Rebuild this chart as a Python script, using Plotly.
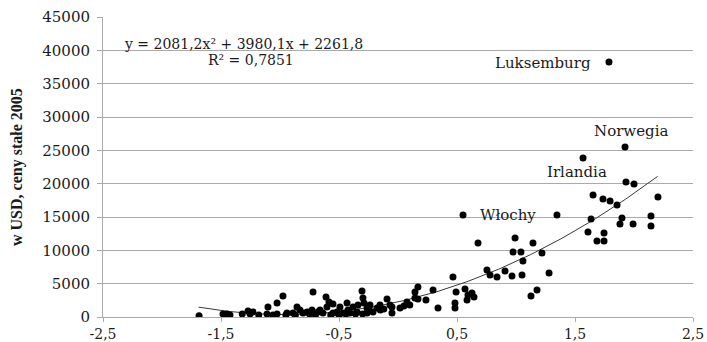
import numpy as np
import plotly.graph_objects as go

# Index value (x) vs. GDP per capita in USD, constant 2005 prices (y)
index_vals = [
    -1.686, -1.483, -1.449, -1.424, -1.271, -1.254, -1.229, -1.110, -1.102, -1.025,
    -0.975, -1.025, -0.941, -0.890, -0.856, -0.831, -0.805, -0.771, -0.720, -0.729,
    -0.678, -0.661, -0.636, -0.610, -0.602, -0.585, -0.551, -0.551, -0.517, -0.492,
    -0.466, -0.432, -0.424, -0.407, -0.381, -0.347, -0.339, -0.305, -0.297, -0.288,
    -0.263, -0.263, -0.237, -0.212, -0.178, -0.153, -0.093, -0.068, -0.051, -0.051,
    0.017, 0.076, 0.144, 0.144, 0.169, 0.169, 0.237, 0.297, 0.339, 0.466,
    0.492, 0.483, 0.483, 0.568, 0.585, 0.593, 0.627, 0.644, 0.551, 0.678,
    0.754, 0.780, 0.839, 0.907, 0.966, 0.992, 0.975, 1.042, 1.059, 1.051,
    1.144, 1.220, 1.280, 1.178, 1.127, 1.347, 1.568, 1.924, 1.788, 1.932,
    2.000, 1.653, 1.737, 1.797, 1.856, 2.203, 1.636, 1.898, 1.881, 1.992,
    2.144, 2.144, 1.610, 1.746, 1.686, 1.746,
    -1.32, -1.18, -1.06, -0.95, -0.87, -0.75, -0.70, -0.57, -0.50, -0.44,
    -0.36, -0.30, -0.24, -0.15, -0.12, 0.05, 0.10,
]
gdp_vals = [
    200, 450, 450, 300, 900, 450, 750, 450, 1500, 2100,
    3150, 450, 600, 600, 1500, 1050, 600, 750, 3750, 1050,
    750, 1050, 600, 3000, 1500, 2250, 1950, 600, 750, 1500,
    600, 2100, 1050, 600, 1500, 750, 1800, 3900, 2850, 2100,
    1350, 600, 1800, 750, 1350, 1800, 2700, 1800, 600, 1500,
    1350, 2250, 2850, 3750, 4500, 2700, 2550, 4050, 1350, 6000,
    3750, 2100, 1350, 4200, 2550, 3300, 3600, 3000, 15300, 11100,
    7050, 6300, 6000, 6900, 6150, 11850, 9750, 9750, 8400, 6300,
    11100, 9600, 6600, 4050, 3150, 15300, 23850, 25500, 38250, 20250,
    19950, 18300, 17700, 17400, 16800, 18000, 14700, 14850, 13950, 13950,
    15150, 13650, 12750, 12600, 11400, 11400,
    450, 300, 300, 300, 300, 450, 300, 300, 300, 450,
    450, 450, 900, 1050, 1200, 1650, 1800,
]

# Quadratic trend line coefficients (shown in the equation label)
trend_a, trend_b, trend_c = 2081.2, 3980.1, 2261.8
trend_x_min, trend_x_max = -1.69, 2.2
r_squared_text = "R² = 0,7851"
equation_text = "y = 2081,2x² + 3980,1x + 2261,8"

# Country labels: (name, x, y) in data units
country_labels = [
    ("Luksemburg", 1.229, 38100),
    ("Norwegia", 1.975, 27900),
    ("Irlandia", 1.517, 21750),
    ("Włochy", 0.932, 15300),
]

x_ticks = [-2.5, -1.5, -0.5, 0.5, 1.5, 2.5]
x_tick_text = ["-2,5", "-1,5", "-0,5", "0,5", "1,5", "2,5"]
y_ticks = list(range(0, 45001, 5000))
y_tick_text = [str(v) for v in y_ticks]
y_title = "w USD, ceny stałe 2005"

serif = "DejaVu Serif, serif"
title_serif = "Liberation Serif, Times New Roman, serif"
grid_col = "#aaaaaa"
text_col = "#1a1a1a"

tx = np.linspace(trend_x_min, trend_x_max, 200)
ty = trend_a * tx**2 + trend_b * tx + trend_c

fig = go.Figure()
fig.add_trace(go.Scatter(
    x=tx, y=ty, mode="lines",
    line=dict(color="#3a3a3a", width=1),
    hoverinfo="skip", showlegend=False,
))
fig.add_trace(go.Scatter(
    x=index_vals, y=gdp_vals, mode="markers",
    marker=dict(color="black", size=7, line=dict(width=0)),
    showlegend=False,
))

for name, lx, ly in country_labels:
    fig.add_annotation(
        x=lx, y=ly, text=name, showarrow=False,
        font=dict(family=serif, size=15, color=text_col),
        xanchor="center", yanchor="middle",
    )

fig.add_annotation(
    x=-2.34, y=41000, text=equation_text, showarrow=False,
    font=dict(family=serif, size=14, color=text_col),
    xanchor="left", yanchor="middle",
)
fig.add_annotation(
    x=-1.25, y=38500, text=r_squared_text, showarrow=False,
    font=dict(family=serif, size=14, color=text_col),
    xanchor="center", yanchor="middle",
)

# Rotated y-axis title
fig.add_annotation(
    xref="paper", yref="paper", x=(17 - 103) / 590, y=0.5,
    text="<b>" + y_title + "</b>", textangle=-90, showarrow=False,
    font=dict(family=title_serif, size=16, color=text_col),
    xanchor="center", yanchor="middle",
)

fig.update_layout(
    width=707, height=342,
    margin=dict(l=103, r=14, t=17, b=25),
    paper_bgcolor="white", plot_bgcolor="white",
    font=dict(family=serif, size=15, color=text_col),
)
fig.update_xaxes(
    range=[-2.5, 2.5], tickvals=x_ticks, ticktext=x_tick_text,
    showgrid=False, zeroline=False, automargin=False,
    showline=True, linecolor=grid_col, linewidth=1,
    ticks="outside", ticklen=4, tickcolor=grid_col,
    tickfont=dict(family=serif, size=14, color=text_col),
)
fig.update_yaxes(
    range=[0, 45000], tickvals=y_ticks, ticktext=y_tick_text,
    showgrid=True, gridcolor=grid_col, gridwidth=1, zeroline=False,
    automargin=False, ticklabelstandoff=4,
    showline=True, linecolor=grid_col, linewidth=1,
    ticks="outside", ticklen=5, tickcolor=grid_col,
    tickfont=dict(family=serif, size=15, color=text_col),
)

fig.write_html("out.html")
